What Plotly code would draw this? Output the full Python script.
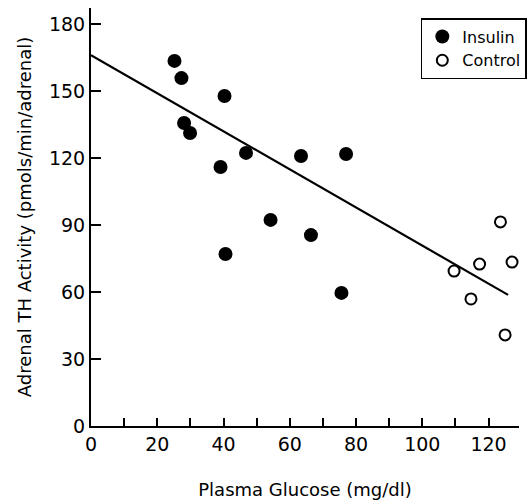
import plotly.graph_objects as go

# Insulin-treated (filled circles)
insulin_glucose = [25.2, 27.3, 28.1, 29.9, 40.3, 39.1, 46.8, 40.6, 63.4, 77.0, 54.2, 66.4, 75.6]
insulin_th = [163.5, 155.8, 135.7, 131.2, 147.8, 116.0, 122.3, 77.0, 120.9, 121.8, 92.3, 85.5, 59.6]

# Control (open circles)
control_glucose = [109.6, 117.3, 127.1, 114.7, 125.0, 123.6]
control_th = [69.4, 72.5, 73.4, 56.9, 40.8, 91.4]

# Regression line
reg_intercept = 166.1
reg_slope = -0.853
reg_x = [0, 125.9]
reg_y = [reg_intercept + reg_slope * x for x in reg_x]

x_ticks = [0, 20, 40, 60, 80, 100, 120]
y_ticks = [0, 30, 60, 90, 120, 150, 180]

FONT = "DejaVu Sans"

fig = go.Figure()
fig.add_trace(go.Scatter(x=reg_x, y=reg_y, mode="lines",
                         line=dict(color="black", width=2.2), showlegend=False,
                         hoverinfo="skip"))
fig.add_trace(go.Scatter(x=insulin_glucose, y=insulin_th, mode="markers", name="Insulin",
                         marker=dict(symbol="circle", size=14, color="black",
                                     line=dict(width=0))))
fig.add_trace(go.Scatter(x=control_glucose, y=control_th, mode="markers", name="Control",
                         marker=dict(symbol="circle-open", size=11, color="black",
                                     line=dict(width=2, color="black"))))

fig.update_layout(
    width=527, height=502,
    margin=dict(l=91, r=0, t=8, b=76),
    paper_bgcolor="white", plot_bgcolor="white",
    font=dict(family=FONT, color="black", size=17),
    legend=dict(x=0.7706, y=0.976, xanchor="left", yanchor="top",
                bordercolor="black", borderwidth=1.5, bgcolor="white",
                font=dict(size=16, family=FONT),
                itemwidth=30, tracegroupgap=0),
    xaxis=dict(range=[0, 129.2], tickmode="array", tickvals=x_ticks,
               ticktext=[str(v) for v in x_ticks],
               showgrid=False, zeroline=False, showline=True, linecolor="black",
               linewidth=2, ticks="inside", ticklen=8, tickwidth=2, tickcolor="black",
               minor=dict(dtick=10, ticks="inside", ticklen=8, tickwidth=2, tickcolor="black"),
               tickfont=dict(size=19, family=FONT),
               title=dict(text="Plasma Glucose (mg/dl)", font=dict(size=18, family=FONT),
                          standoff=30)),
    yaxis=dict(range=[0, 187.2], tickmode="array", tickvals=y_ticks,
               ticktext=[str(v) for v in y_ticks],
               showgrid=False, zeroline=False, showline=True, linecolor="black",
               linewidth=2, ticks="inside", ticklen=10, tickwidth=2, tickcolor="black",
               tickfont=dict(size=19, family=FONT),
               title=dict(text="Adrenal TH Activity (pmols/min/adrenal)",
                          font=dict(size=18, family=FONT), standoff=13)),
)

fig.write_html("out.html")
